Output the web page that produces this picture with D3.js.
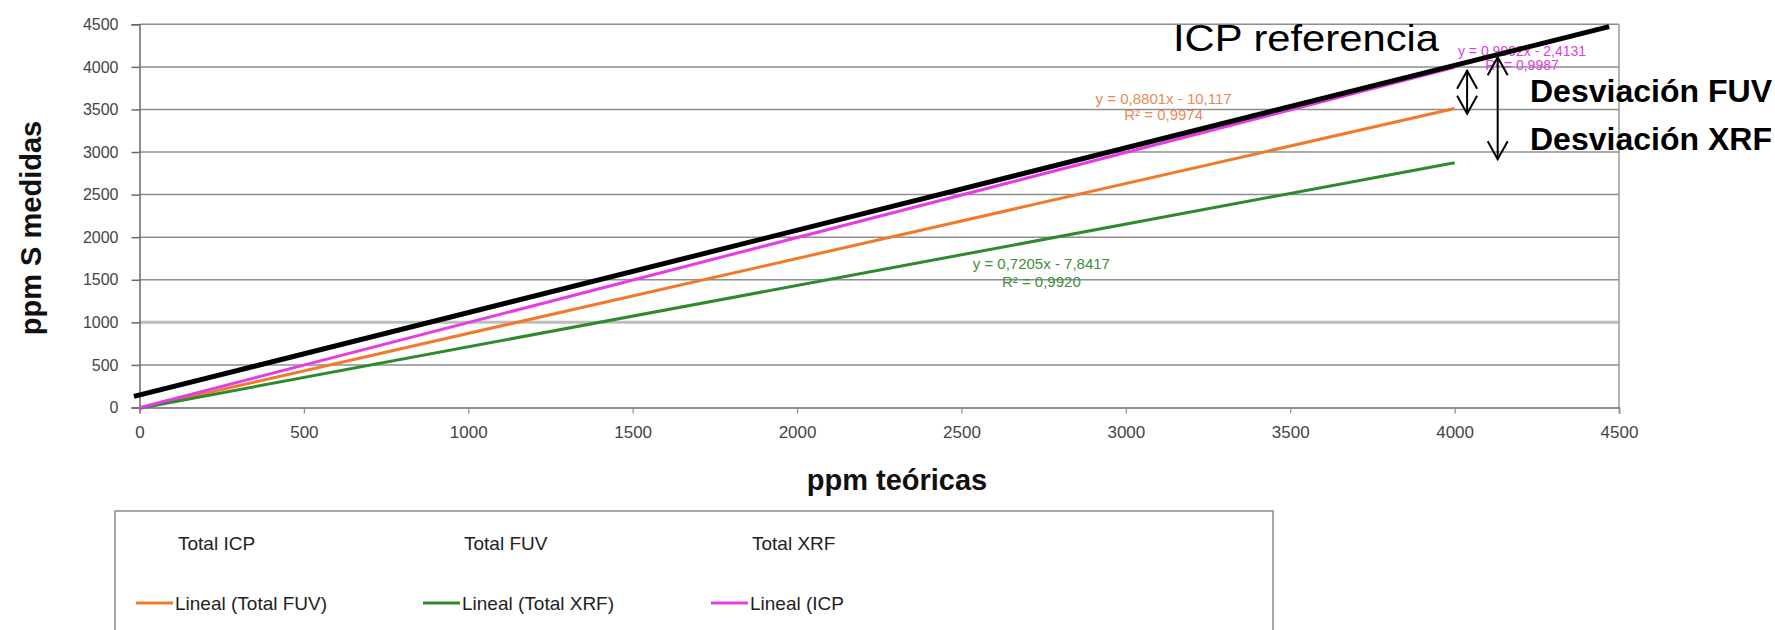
<!DOCTYPE html>
<html>
<head>
<meta charset="utf-8">
<script src="https://cdn.jsdelivr.net/npm/d3@7"></script>
<style>
  html, body { margin: 0; padding: 0; background: #fff; }
  svg { display: block; font-family: "Liberation Sans", Arial, sans-serif; }
</style>
</head>
<body>
<svg id="chart" width="1775" height="630"></svg>
<script>
// Axis ticks (ppm)
const xTicks = [0, 500, 1000, 1500, 2000, 2500, 3000, 3500, 4000, 4500];
const yTicks = [0, 500, 1000, 1500, 2000, 2500, 3000, 3500, 4000, 4500];

// Linear trendlines fitted to each method: y = slope * x + intercept
const trendNames = ["Lineal (Total FUV)", "Lineal (Total XRF)", "Lineal (ICP"];
const trendSlopes = [0.8801, 0.7205, 0.9992];
const trendIntercepts = [-10.117, -7.8417, -2.4131];
const trendR2 = [0.9974, 0.9920, 0.9987];
const trendRange = [0, 4000];

// Where each equation label sits (data units)
const labelX = [3115, 2743, 4205];
const labelY = [3629, 1687, 4180];
const labelY2 = [3443, 1475, 4025];

// Series shown in the legend's first row (markers not drawn)
const pointNames = ["Total ICP", "Total FUV", "Total XRF"];

// Reference line drawn for ICP (data units)
const refX = [-17, 4470];
const refY = [130, 4472];

// Deviation arrows at the end of the range (data units)
const arrowX = [4038, 4131];
const arrowTop = [3955, 4112];
const arrowBottom = [3450, 2915];
const arrowNames = ["Desviación FUV", "Desviación XRF"];

const trendColors = ["#f07a2a", "#2f8a2f", "#e63ce6"];
const labelColors = ["#e98a55", "#3d8f3d", "#e040e0"];

const svg = d3.select("#chart");
const x = d3.scaleLinear().domain([0, 4500]).range([139.5, 1619]);
const y = d3.scaleLinear().domain([0, 4500]).range([407.5, 24.3]);

// Horizontal gridlines
svg.append("g").selectAll("line").data(yTicks.filter(d => d > 0)).join("line")
  .attr("x1", x(0)).attr("x2", x(4500))
  .attr("y1", d => y(d)).attr("y2", d => y(d))
  .attr("stroke", d => d === 1000 ? "#bdbdbd" : "#8e8e8e")
  .attr("stroke-width", d => d === 1000 ? 3 : 1.5);

// Right border of the plot area
svg.append("line")
  .attr("x1", x(4500)).attr("x2", x(4500)).attr("y1", y(4500)).attr("y2", y(0))
  .attr("stroke", "#9a9a9a").attr("stroke-width", 1.5);

// Y axis
const yAxis = svg.append("g").attr("transform", `translate(${x(0)},0)`)
  .call(d3.axisLeft(y).tickValues(yTicks).tickSize(8).tickPadding(13).tickFormat(d3.format("d")));
yAxis.select(".domain").attr("stroke", "#6a6a6a").attr("stroke-width", 1.5);
yAxis.selectAll(".tick line").attr("stroke", "#6a6a6a").attr("stroke-width", 1.5);
yAxis.selectAll(".tick text").attr("fill", "#444").attr("font-size", 16)
  .attr("font-family", "Liberation Sans, Arial, sans-serif");

// X axis
const xAxis = svg.append("g").attr("transform", `translate(0,${y(0)})`)
  .call(d3.axisBottom(x).tickValues(xTicks).tickSize(6).tickPadding(12).tickFormat(d3.format("d")));
xAxis.select(".domain").attr("stroke", "#6a6a6a").attr("stroke-width", 1.5);
xAxis.selectAll(".tick line").attr("stroke", "#8a8a8a").attr("stroke-width", 1.2);
xAxis.selectAll(".tick text").attr("fill", "#444").attr("font-size", 17)
  .attr("font-family", "Liberation Sans, Arial, sans-serif");

// Axis titles
svg.append("text").attr("x", 897).attr("y", 490).attr("text-anchor", "middle")
  .attr("font-weight", "bold").attr("font-size", 29).attr("fill", "#111").text("ppm teóricas");
svg.append("text").attr("transform", "translate(41,228) rotate(-90)").attr("text-anchor", "middle")
  .attr("font-weight", "bold").attr("font-size", 29).attr("fill", "#111").text("ppm S medidas");

// Trendlines
const line = d3.line().x(d => x(d[0])).y(d => y(d[1]));
trendNames.forEach((name, i) => {
  const pts = trendRange.map(v => [v, trendSlopes[i] * v + trendIntercepts[i]]);
  svg.append("path").datum(pts).attr("d", line)
    .attr("fill", "none").attr("stroke", trendColors[i]).attr("stroke-width", 3);
});

// Equation labels
const fmt = v => String(v).replace(".", ",");
trendNames.forEach((name, i) => {
  const g = svg.append("g").attr("fill", labelColors[i]).attr("font-size", i === 2 ? 14 : 15)
    .attr("text-anchor", "middle");
  g.append("text").attr("x", x(labelX[i])).attr("y", y(labelY[i])).attr("dy", "0.35em")
    .text(`y = ${fmt(trendSlopes[i])}x - ${fmt(-trendIntercepts[i])}`);
  g.append("text").attr("x", x(labelX[i])).attr("y", y(labelY2[i])).attr("dy", "0.35em")
    .text(`R² = ${trendR2[i].toFixed(4).replace(".", ",")}`);
});

// ICP reference line
svg.append("path").datum(refX.map((v, i) => [v, refY[i]])).attr("d", line)
  .attr("fill", "none").attr("stroke", "#000").attr("stroke-width", 5);

svg.append("text").attr("x", 1173).attr("y", 51).attr("font-size", 36)
  .attr("textLength", 266).attr("lengthAdjust", "spacingAndGlyphs")
  .attr("fill", "#000").text("ICP referencia");

// Deviation arrows
arrowX.forEach((ax, i) => {
  const px = x(ax), t = y(arrowTop[i]), b = y(arrowBottom[i]);
  const g = svg.append("g").attr("stroke", "#000").attr("stroke-width", 2).attr("fill", "none");
  g.append("line").attr("x1", px).attr("x2", px).attr("y1", t).attr("y2", b);
  g.append("polyline").attr("points", `${px - 10},${t + 18} ${px},${t} ${px + 10},${t + 18}`);
  g.append("polyline").attr("points", `${px - 10},${b - 18} ${px},${b} ${px + 10},${b - 18}`);
});
svg.append("text").attr("x", 1530).attr("y", 102).attr("font-size", 31).attr("font-weight", "bold")
  .attr("textLength", 242).attr("lengthAdjust", "spacingAndGlyphs")
  .attr("fill", "#000").text(arrowNames[0]);
svg.append("text").attr("x", 1530).attr("y", 150).attr("font-size", 31).attr("font-weight", "bold")
  .attr("textLength", 242).attr("lengthAdjust", "spacingAndGlyphs")
  .attr("fill", "#000").text(arrowNames[1]);

// Legend
svg.append("rect").attr("x", 115).attr("y", 511).attr("width", 1158).attr("height", 140)
  .attr("fill", "#fff").attr("stroke", "#8a8a8a").attr("stroke-width", 1.5);
const legendCols = [178, 464, 752];
pointNames.forEach((name, i) => {
  svg.append("text").attr("x", legendCols[i]).attr("y", 543).attr("dy", "0.35em")
    .attr("font-size", 19).attr("fill", "#222").text(name);
});
const sampleX = [136, 423, 711];
trendNames.forEach((name, i) => {
  svg.append("line").attr("x1", sampleX[i]).attr("x2", sampleX[i] + 37)
    .attr("y1", 603).attr("y2", 603).attr("stroke", trendColors[i]).attr("stroke-width", 3);
  svg.append("text").attr("x", sampleX[i] + 39).attr("y", 603).attr("dy", "0.35em")
    .attr("font-size", 19).attr("fill", "#222").text(name);
});
</script>
</body>
</html>
